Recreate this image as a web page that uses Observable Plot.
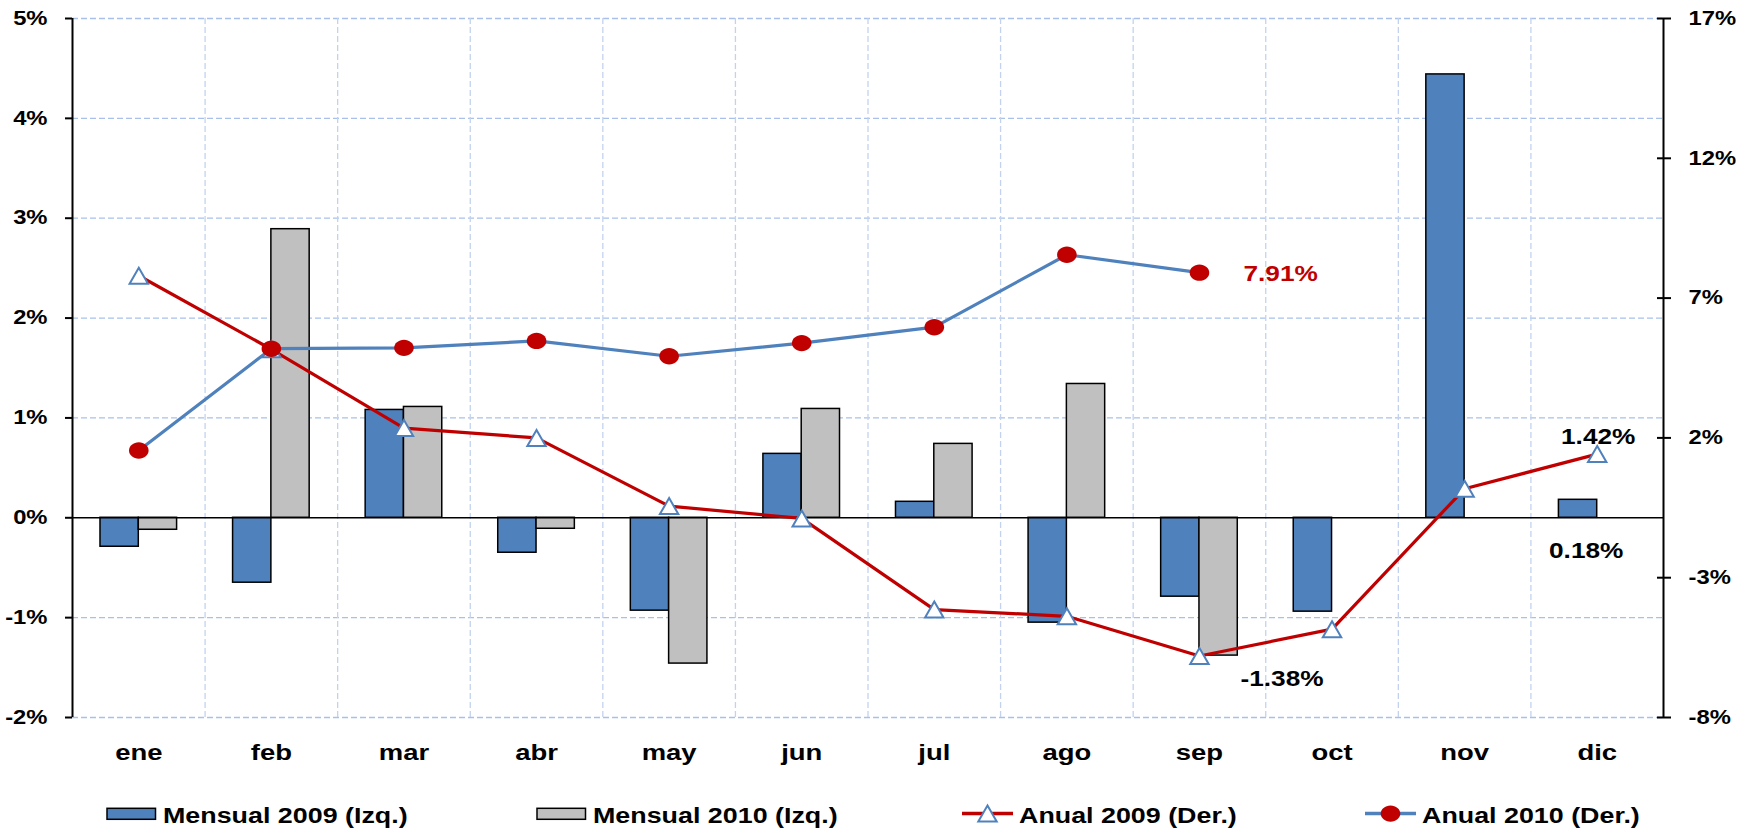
<!DOCTYPE html>
<html>
<head>
<meta charset="utf-8">
<script src="https://cdn.jsdelivr.net/npm/d3@7"></script>
<script src="https://cdn.jsdelivr.net/npm/@observablehq/plot@0.6"></script>
<style>
  body { margin: 0; background: #fff; }
  #chart { width: 1738px; }
  #chart svg { display: block; }
  #chart svg text { font-family: "Liberation Sans", Arial, sans-serif; font-weight: bold; }
</style>
</head>
<body>
<div id="chart"></div>
<script>
// Monthly and year-on-year variation, 2009 vs 2010 (%)
const months = ["ene", "feb", "mar", "abr", "may", "jun", "jul", "ago", "sep", "oct", "nov", "dic"];
const mensual2009 = [-0.29, -0.65, 1.08, -0.35, -0.93, 0.64, 0.16, -1.05, -0.79, -0.94, 4.44, 0.18];
const mensual2010 = [-0.12, 2.89, 1.11, -0.11, -1.46, 1.09, 0.74, 1.34, -1.38, null, null, null];
const anual2009 = [7.80, 5.17, 2.35, 2.00, -0.44, -0.88, -4.14, -4.38, -5.80, -4.84, 0.18, 1.42];
const anual2010 = [1.55, 5.19, 5.22, 5.47, 4.92, 5.39, 5.96, 8.55, 7.91, null, null, null];
const leftTicks = [-2, -1, 0, 1, 2, 3, 4, 5];
const rightTicks = [-8, -3, 2, 7, 12, 17];
const seriesNames = ["Mensual 2009 (Izq.)", "Mensual 2010 (Izq.)", "Anual 2009 (Der.)", "Anual 2010 (Der.)"];

const BLUE = "#4F81BD", GRAY = "#C0C0C0", RED = "#C00000", GRID = "#A9C1EA";

// layout
const W = 1738, H = 790, mL = 72, mR = 75, mT = 18, mB = 73;
const step = (W - mL - mR) / months.length;
const barW = 38.3;
const pad = 1 - barW / step;
const STRETCH = 1.22; // wide lettering

// right axis values are mapped onto the left axis domain
const toLeft = d3.scaleLinear([-8, 17], [-2, 5]);

const rows = months.map((m, i) => ({
  month: m, m09: mensual2009[i], m10: mensual2010[i], a09: anual2009[i], a10: anual2010[i]
}));

// marker shapes (slightly wide, as in the legend)
const triangle = {
  draw(ctx) { ctx.moveTo(0, -8); ctx.lineTo(9.2, 8); ctx.lineTo(-9.2, 8); ctx.closePath(); }
};
const ellipse = {
  draw(ctx) {
    const rx = 9.8, ry = 8.2, k = 0.5523;
    ctx.moveTo(rx, 0);
    ctx.bezierCurveTo(rx, ry * k, rx * k, ry, 0, ry);
    ctx.bezierCurveTo(-rx * k, ry, -rx, ry * k, -rx, 0);
    ctx.bezierCurveTo(-rx, -ry * k, -rx * k, -ry, 0, -ry);
    ctx.bezierCurveTo(rx * k, -ry, rx, -ry * k, rx, 0);
    ctx.closePath();
  }
};

// value labels: [series values, month index, left/right axis, placement]
const valueLabels = [
  {vals: anual2010, i: 8, right: true, dx: 44, dy: 1, anchor: "start", fill: RED},
  {vals: mensual2010, i: 8, right: false, dx: 41, dy: 24, anchor: "start", fill: "#000"},
  {vals: anual2009, i: 11, right: true, dx: 1, dy: -17, anchor: "middle", fill: "#000"},
  {vals: mensual2009, i: 11, right: false, dx: -11, dy: 51, anchor: "middle", fill: "#000"}
];

const labelMarks = valueLabels.map(l => {
  const v = l.vals[l.i];
  return Plot.text([{month: months[l.i], y: l.right ? toLeft(v) : v, text: v.toFixed(2) + "%"}], {
    x: "month", y: "y", text: "text", dx: l.dx, dy: l.dy,
    textAnchor: l.anchor, fill: l.fill, fontSize: 21.5
  });
});

const chart = Plot.plot({
  width: W, height: H,
  marginLeft: mL, marginRight: mR, marginTop: mT, marginBottom: mB,
  style: {fontFamily: "Liberation Sans, Arial, sans-serif", fontWeight: "bold", background: "#fff", color: "#000"},
  x: {type: "band", domain: months, paddingInner: pad, paddingOuter: pad / 2, align: 0.5, round: false},
  y: {domain: [-2, 5]},
  marks: [
    // grid
    Plot.gridY(leftTicks.filter(d => d !== 0), {stroke: GRID, strokeOpacity: 1, strokeWidth: 1.3, strokeDasharray: "6,3"}),
    Plot.ruleX(months.slice(1), {dx: -step / 2, stroke: "#C3D3EF", strokeWidth: 1.3, strokeDasharray: "6,3"}),
    // monthly bars (left axis)
    Plot.barY(rows, {x: "month", y: "m09", dx: -barW / 2, fill: BLUE, stroke: "#000", strokeWidth: 1.5}),
    Plot.barY(rows.filter(d => d.m10 != null), {x: "month", y: "m10", dx: barW / 2, fill: GRAY, stroke: "#000", strokeWidth: 1.5}),
    // zero line and vertical axis lines
    Plot.ruleY([0], {stroke: "#000", strokeWidth: 1.6}),
    Plot.ruleX([months[0]], {dx: -step / 2, stroke: "#000", strokeWidth: 2}),
    Plot.ruleX([months[months.length - 1]], {dx: step / 2, stroke: "#000", strokeWidth: 2}),
    // annual lines (right axis)
    Plot.line(rows, {x: "month", y: d => toLeft(d.a09), stroke: RED, strokeWidth: 3.2}),
    Plot.dot(rows, {x: "month", y: d => toLeft(d.a09), symbol: triangle, fill: "#fff", stroke: BLUE, strokeWidth: 2}),
    Plot.line(rows.filter(d => d.a10 != null), {x: "month", y: d => toLeft(d.a10), stroke: BLUE, strokeWidth: 3.2}),
    Plot.dot(rows.filter(d => d.a10 != null), {x: "month", y: d => toLeft(d.a10), symbol: ellipse, fill: RED, stroke: "none"}),
    ...labelMarks,
    // axes
    Plot.axisY(leftTicks, {anchor: "left", tickSize: 7, tickPadding: 18, stroke: "#000", strokeWidth: 2,
      tickFormat: d => d + "%", fontSize: 19.5, label: null}),
    Plot.axisY(rightTicks.map(toLeft), {anchor: "right", tickSize: 14, dx: -7, fill: "none", stroke: "#000", strokeWidth: 2, label: null}),
    Plot.axisY(rightTicks.map(toLeft), {anchor: "right", tickSize: 7, tickPadding: 18, stroke: "none",
      tickFormat: d => Math.round(toLeft.invert(d)) + "%", textAnchor: "start", fontSize: 19.5, label: null}),
    Plot.axisX({anchor: "bottom", tickSize: 0, tickPadding: 27, fontSize: 22.5, label: null})
  ]
});

const root = document.getElementById("chart");
root.append(chart);

// legend below the chart
const legendItems = [
  {name: seriesNames[0], kind: "bar", color: BLUE, left: 107},
  {name: seriesNames[1], kind: "bar", color: GRAY, left: 537},
  {name: seriesNames[2], kind: "line", color: RED, marker: "tri", left: 962},
  {name: seriesNames[3], kind: "line", color: BLUE, marker: "dot", left: 1365}
];
const legend = d3.create("svg").attr("width", W).attr("height", 38).style("display", "block");
for (const it of legendItems) {
  const g = legend.append("g").attr("transform", `translate(${it.left},0)`);
  if (it.kind === "bar") {
    g.append("rect").attr("x", 0).attr("y", 18.3).attr("width", 48.5).attr("height", 11)
      .attr("fill", it.color).attr("stroke", "#000").attr("stroke-width", 1.5);
    g.append("text").attr("x", 56).attr("y", 33).attr("font-size", 22).text(it.name);
  } else {
    g.append("line").attr("x1", 0).attr("x2", 51).attr("y1", 23.6).attr("y2", 23.6)
      .attr("stroke", it.color).attr("stroke-width", 3.5);
    const p = d3.path();
    (it.marker === "tri" ? triangle : ellipse).draw(p);
    g.append("path").attr("d", p.toString()).attr("transform", "translate(25.5,23.6)")
      .attr("fill", it.marker === "tri" ? "#fff" : RED)
      .attr("stroke", it.marker === "tri" ? BLUE : "none").attr("stroke-width", 2);
    g.append("text").attr("x", 57).attr("y", 33).attr("font-size", 22).text(it.name);
  }
}
root.append(legend.node());

// widen all lettering
root.querySelectorAll("svg text").forEach(t => {
  const len = t.getComputedTextLength();
  if (len > 0) {
    t.setAttribute("textLength", (len * STRETCH).toFixed(2));
    t.setAttribute("lengthAdjust", "spacingAndGlyphs");
  }
});
</script>
</body>
</html>
